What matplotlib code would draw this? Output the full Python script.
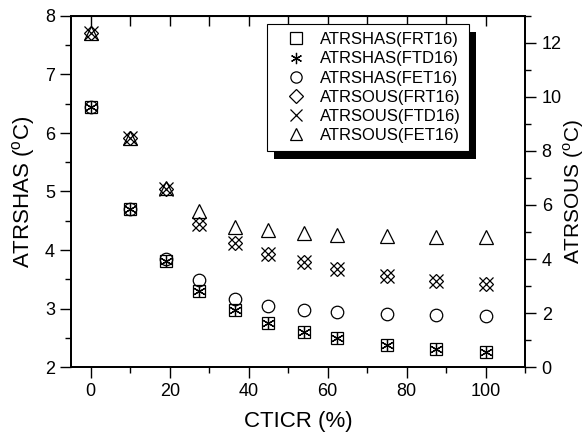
import matplotlib
matplotlib.use("Agg")
import matplotlib.pyplot as plt
from matplotlib.patches import Rectangle
from matplotlib.ticker import MultipleLocator

plt.rcParams["font.family"] = ["Liberation Sans", "DejaVu Sans"]
plt.rcParams["mathtext.fontset"] = "custom"
plt.rcParams["mathtext.rm"] = "Liberation Sans"

# data
cticr = [0, 10, 19, 27.5, 36.5, 45, 54, 62.5, 75, 87.5, 100]
atrshas_frt16 = [6.45, 4.70, 3.82, 3.30, 2.97, 2.76, 2.60, 2.50, 2.38, 2.30, 2.25]
atrshas_ftd16 = [6.45, 4.70, 3.82, 3.30, 2.97, 2.76, 2.60, 2.50, 2.38, 2.30, 2.25]
atrshas_fet16 = [6.45, 4.70, 3.85, 3.48, 3.17, 3.04, 2.98, 2.94, 2.91, 2.89, 2.88]
atrsous_frt16 = [12.38, 8.48, 6.58, 5.28, 4.60, 4.18, 3.90, 3.64, 3.38, 3.20, 3.08]
atrsous_ftd16 = [12.38, 8.48, 6.58, 5.28, 4.60, 4.18, 3.90, 3.64, 3.38, 3.20, 3.08]
atrsous_fet16 = [12.38, 8.48, 6.62, 5.76, 5.20, 5.09, 4.98, 4.90, 4.86, 4.83, 4.80]

fig = plt.figure(figsize=(5.87, 4.40), dpi=100)
ax = fig.add_axes([71 / 587, 1 - 367 / 440, 454 / 587, 351 / 440])
ax2 = ax.twinx()

style = dict(linestyle="none", color="k", markerfacecolor="none", markeredgewidth=0.9)
h1, = ax.plot(cticr, atrshas_frt16, marker="s", markersize=9, label="ATRSHAS(FRT16)", **style)
h2, = ax.plot(cticr, atrshas_ftd16, marker=(6, 2, 0), markersize=9, label="ATRSHAS(FTD16)", **style)
h3, = ax.plot(cticr, atrshas_fet16, marker="o", markersize=9, label="ATRSHAS(FET16)", **style)
h4, = ax2.plot(cticr, atrsous_frt16, marker="D", markersize=7.5, label="ATRSOUS(FRT16)", **style)
h5, = ax2.plot(cticr, atrsous_ftd16, marker="x", markersize=10, label="ATRSOUS(FTD16)", **style)
h6, = ax2.plot(cticr, atrsous_fet16, marker="^", markersize=10, label="ATRSOUS(FET16)", **style)

ax.set_xlim(-5, 110)
ax.set_ylim(2, 8)
ax2.set_ylim(0, 13)

ax.xaxis.set_major_locator(MultipleLocator(20))
ax.xaxis.set_minor_locator(MultipleLocator(10))
ax.yaxis.set_major_locator(MultipleLocator(1))
ax.yaxis.set_minor_locator(MultipleLocator(0.5))
ax2.yaxis.set_major_locator(MultipleLocator(2))
ax2.yaxis.set_minor_locator(MultipleLocator(1))

ax.tick_params(which="major", direction="out", length=8, width=1, labelsize=13)
ax.tick_params(which="minor", direction="out", length=4, width=1)
ax2.tick_params(which="major", direction="out", length=8, width=1, labelsize=13, pad=4)
ax2.tick_params(which="minor", direction="out", length=4, width=1)

top = ax.secondary_xaxis("top")
top.set_xticks(range(0, 101, 10))
top.tick_params(direction="in", length=7, width=1, labeltop=False)

for a in (ax, ax2):
    for sp in a.spines.values():
        sp.set_linewidth(1.3)

ax.set_xlabel("CTICR (%)", fontsize=16, labelpad=8)
ax.set_ylabel(r"ATRSHAS ($^{\rm o}$C)", fontsize=16, labelpad=6)
ax2.set_ylabel(r"ATRSOUS ($^{\rm o}$C)", fontsize=15, labelpad=0)

leg = ax2.legend(handles=[h1, h2, h3, h4, h5, h6], loc="upper left",
                 bbox_to_anchor=(267 / 587, 1 - 24 / 440), bbox_transform=fig.transFigure,
                 borderaxespad=0, fontsize=12, fancybox=False, framealpha=1,
                 edgecolor="k", handlelength=2.5, handletextpad=0.15,
                 labelspacing=0.25, borderpad=0.5, markerscale=0.9)
leg.get_frame().set_linewidth(0.8)

# black drop shadow behind the legend
fig.canvas.draw()
bb = leg.get_window_extent()
shadow = Rectangle(((bb.x0 + 7) / fig.bbox.width, (bb.y0 - 8) / fig.bbox.height),
                   bb.width / fig.bbox.width, bb.height / fig.bbox.height,
                   transform=fig.transFigure, facecolor="k", edgecolor="none",
                   zorder=4.9, clip_on=False)
ax2.add_patch(shadow)

fig.savefig("out.png", dpi=100)
